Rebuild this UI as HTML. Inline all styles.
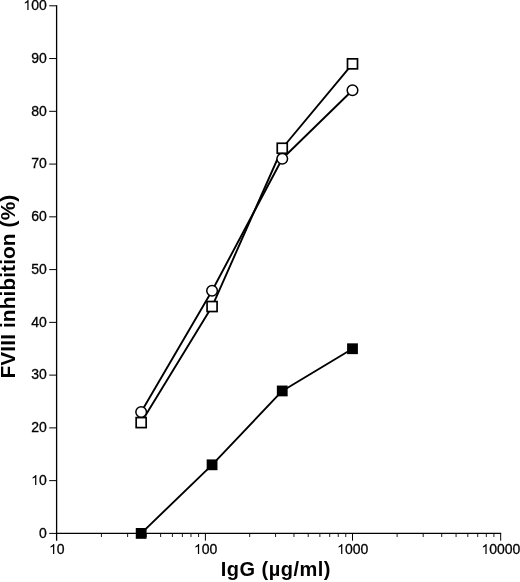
<!DOCTYPE html><html><head><meta charset="utf-8"><style>html,body{margin:0;padding:0;background:#fff;overflow:hidden;}svg{display:block;will-change:transform;}text{font-family:"Liberation Sans",sans-serif;fill:#000;}</style></head><body>
<svg width="520" height="582" viewBox="0 0 520 582">
<g stroke="#000" fill="none">
<line x1="56.6" y1="5.30" x2="56.6" y2="540.6999999999999" stroke-width="1.3"/>
<line x1="55.95" y1="533.4" x2="501.18" y2="533.4" stroke-width="1.3"/>
<line x1="49.20" y1="533.40" x2="56.6" y2="533.40" stroke-width="1.0"/>
<line x1="49.20" y1="480.64" x2="56.6" y2="480.64" stroke-width="1.0"/>
<line x1="49.20" y1="427.88" x2="56.6" y2="427.88" stroke-width="1.0"/>
<line x1="49.20" y1="375.12" x2="56.6" y2="375.12" stroke-width="1.0"/>
<line x1="49.20" y1="322.36" x2="56.6" y2="322.36" stroke-width="1.0"/>
<line x1="49.20" y1="269.60" x2="56.6" y2="269.60" stroke-width="1.0"/>
<line x1="49.20" y1="216.84" x2="56.6" y2="216.84" stroke-width="1.0"/>
<line x1="49.20" y1="164.08" x2="56.6" y2="164.08" stroke-width="1.0"/>
<line x1="49.20" y1="111.32" x2="56.6" y2="111.32" stroke-width="1.0"/>
<line x1="49.20" y1="58.56" x2="56.6" y2="58.56" stroke-width="1.0"/>
<line x1="49.20" y1="5.80" x2="56.6" y2="5.80" stroke-width="1.0"/>
<line x1="205.40" y1="533.4" x2="205.40" y2="540.6999999999999" stroke-width="1.0"/>
<line x1="352.50" y1="533.4" x2="352.50" y2="540.6999999999999" stroke-width="1.0"/>
<line x1="500.68" y1="533.4" x2="500.68" y2="540.6999999999999" stroke-width="1.0"/>
<line x1="101.42" y1="533.4" x2="101.42" y2="537.0" stroke-width="0.9"/>
<line x1="127.62" y1="533.4" x2="127.62" y2="537.0" stroke-width="0.9"/>
<line x1="146.20" y1="533.4" x2="146.20" y2="537.0" stroke-width="0.9"/>
<line x1="160.62" y1="533.4" x2="160.62" y2="537.0" stroke-width="0.9"/>
<line x1="172.40" y1="533.4" x2="172.40" y2="537.0" stroke-width="0.9"/>
<line x1="182.36" y1="533.4" x2="182.36" y2="537.0" stroke-width="0.9"/>
<line x1="190.98" y1="533.4" x2="190.98" y2="537.0" stroke-width="0.9"/>
<line x1="198.59" y1="533.4" x2="198.59" y2="537.0" stroke-width="0.9"/>
<line x1="249.68" y1="533.4" x2="249.68" y2="537.0" stroke-width="0.9"/>
<line x1="275.58" y1="533.4" x2="275.58" y2="537.0" stroke-width="0.9"/>
<line x1="293.96" y1="533.4" x2="293.96" y2="537.0" stroke-width="0.9"/>
<line x1="308.22" y1="533.4" x2="308.22" y2="537.0" stroke-width="0.9"/>
<line x1="319.87" y1="533.4" x2="319.87" y2="537.0" stroke-width="0.9"/>
<line x1="329.71" y1="533.4" x2="329.71" y2="537.0" stroke-width="0.9"/>
<line x1="338.24" y1="533.4" x2="338.24" y2="537.0" stroke-width="0.9"/>
<line x1="345.77" y1="533.4" x2="345.77" y2="537.0" stroke-width="0.9"/>
<line x1="397.11" y1="533.4" x2="397.11" y2="537.0" stroke-width="0.9"/>
<line x1="423.20" y1="533.4" x2="423.20" y2="537.0" stroke-width="0.9"/>
<line x1="441.71" y1="533.4" x2="441.71" y2="537.0" stroke-width="0.9"/>
<line x1="456.07" y1="533.4" x2="456.07" y2="537.0" stroke-width="0.9"/>
<line x1="467.81" y1="533.4" x2="467.81" y2="537.0" stroke-width="0.9"/>
<line x1="477.73" y1="533.4" x2="477.73" y2="537.0" stroke-width="0.9"/>
<line x1="486.32" y1="533.4" x2="486.32" y2="537.0" stroke-width="0.9"/>
<line x1="493.90" y1="533.4" x2="493.90" y2="537.0" stroke-width="0.9"/>
</g>
<defs><path id="d1" d="M372 0H284V560Q252 530 200 500Q148 470 106 455V540Q178 574 232 622Q286 670 308 716H372Z"/></defs>
<g font-size="14" stroke="#000" stroke-width="0.3">
<text x="38.92" y="538">0</text>
<use href="#d1" transform="translate(31.13,485) scale(0.014,-0.014)"/>
<text x="38.92" y="485">0</text>
<text x="31.13" y="432">2</text>
<text x="38.92" y="432">0</text>
<text x="31.13" y="379">3</text>
<text x="38.92" y="379">0</text>
<text x="31.13" y="327">4</text>
<text x="38.92" y="327">0</text>
<text x="31.13" y="274">5</text>
<text x="38.92" y="274">0</text>
<text x="31.13" y="221">6</text>
<text x="38.92" y="221">0</text>
<text x="31.13" y="168">7</text>
<text x="38.92" y="168">0</text>
<text x="31.13" y="116">8</text>
<text x="38.92" y="116">0</text>
<text x="31.13" y="63">9</text>
<text x="38.92" y="63">0</text>
<use href="#d1" transform="translate(23.35,10) scale(0.014,-0.014)"/>
<text x="31.13" y="10">0</text>
<text x="38.92" y="10">0</text>
<use href="#d1" transform="translate(49.06,554) scale(0.014,-0.014)"/>
<text x="56.84" y="554">0</text>
<use href="#d1" transform="translate(193.92,554) scale(0.014,-0.014)"/>
<text x="201.71" y="554">0</text>
<text x="209.49" y="554">0</text>
<use href="#d1" transform="translate(337.13,554) scale(0.014,-0.014)"/>
<text x="344.92" y="554">0</text>
<text x="352.70" y="554">0</text>
<text x="360.48" y="554">0</text>
<use href="#d1" transform="translate(481.42,554) scale(0.014,-0.014)"/>
<text x="489.20" y="554">0</text>
<text x="496.99" y="554">0</text>
<text x="504.77" y="554">0</text>
<text x="512.56" y="554">0</text>
</g>
<text x="275.8" y="576.3" font-size="20" font-weight="bold" text-anchor="middle" letter-spacing="0.5">IgG (µg/ml)</text>
<text transform="translate(15.3,286.6) rotate(-90)" font-size="20.8" font-weight="bold" text-anchor="middle" letter-spacing="0.12">FVIII inhibition (%)</text>
<g stroke="#000" stroke-width="1.9" fill="none" stroke-linejoin="round">
<polyline points="141.17,422.60 212.07,306.53 282.25,148.25 352.50,63.84"/>
<polyline points="141.17,412.05 212.07,290.70 282.25,158.80 352.50,90.22"/>
<polyline points="141.17,533.40 212.07,464.81 282.25,390.95 352.50,348.74"/>
</g>
<g stroke="#000" stroke-width="1.7" fill="#fff">
<rect x="136.17" y="417.60" width="10.0" height="10.0"/>
<rect x="207.07" y="301.53" width="10.0" height="10.0"/>
<rect x="277.25" y="143.25" width="10.0" height="10.0"/>
<rect x="347.50" y="58.84" width="10.0" height="10.0"/>
</g>
<g stroke="#000" stroke-width="1.5" fill="#fff">
<circle cx="141.17" cy="412.05" r="5.3"/>
<circle cx="212.07" cy="290.70" r="5.3"/>
<circle cx="282.25" cy="158.80" r="5.3"/>
<circle cx="352.50" cy="90.22" r="5.3"/>
</g>
<g fill="#000">
<rect x="135.77" y="528.00" width="10.8" height="10.8"/>
<rect x="206.67" y="459.41" width="10.8" height="10.8"/>
<rect x="276.85" y="385.55" width="10.8" height="10.8"/>
<rect x="347.10" y="343.34" width="10.8" height="10.8"/>
</g>
</svg></body></html>
